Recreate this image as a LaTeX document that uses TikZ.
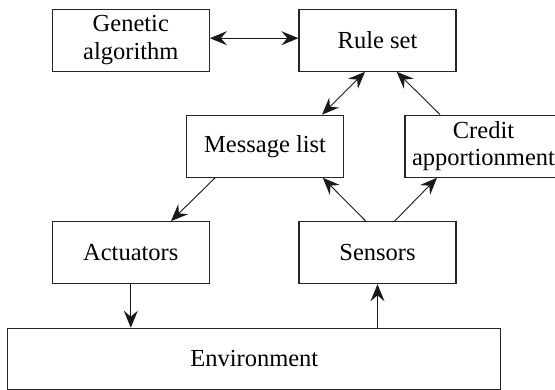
\documentclass[tikz,border=0pt]{standalone}
\usepackage{fontspec}
\setmainfont{Liberation Serif}
\usetikzlibrary{arrows.meta}
\begin{document}
\begin{tikzpicture}[x=1pt,y=-1pt,
  tip/.tip={Stealth[length=17pt,width=14pt,inset=6pt]},
  box/.style={draw=black!85,line width=1.2pt,minimum width=157pt,minimum height=62pt,
    inner sep=0pt,align=center,font=\fontsize{24.5pt}{27.5pt}\selectfont},
  flow/.style={line width=0.9pt,draw=black!90,-tip},
  both/.style={flow,tip-tip}]
\useasboundingbox (0,0) rectangle (555,390);
% blocks of the classifier system
\node[box] (ga)  at (130.8,40.2)  {Genetic\\algorithm};
\node[box] (rs)  at (377.5,40.2)  {Rule set};
\node[box] (ml)  at (265.1,146.2) {Message list};
\node[box] (cr)  at (483.5,146.2) {Credit\\apportionment};
\node[box] (act) at (130.8,252.7) {Actuators};
\node[box] (sen) at (377.5,252.7) {Sensors};
\node[box,minimum width=493pt,minimum height=61pt] (env) at (254.3,358.8) {Environment};
% information flow
\draw[both] ([yshift=2pt]ga.east) -- ([yshift=2pt]rs.west);
\draw[both] ([xshift=-12.5pt]rs.south) -- ([xshift=57pt]ml.north);
\draw[flow] ([xshift=-43.5pt]cr.north) -- ([xshift=19.2pt]rs.south);
\draw[flow] ([xshift=-50pt]ml.south) -- ([xshift=40.2pt]act.north);
\draw[flow] ([xshift=-11.8pt]sen.north) -- ([xshift=57.7pt]ml.south);
\draw[flow] ([xshift=17.2pt]sen.north) -- ([xshift=-46.5pt]cr.south);
\draw[flow] (act.south) -- (act.south |- env.north);
\draw[flow] (env.north -| sen.south) -- (sen.south);
\end{tikzpicture}
\end{document}
